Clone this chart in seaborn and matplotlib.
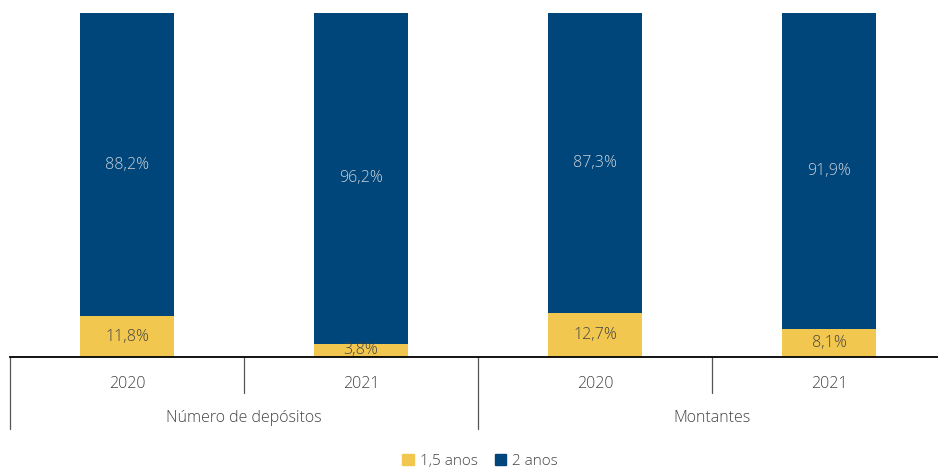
import matplotlib
matplotlib.use("Agg")
import matplotlib.pyplot as plt
import seaborn as sns
import pandas as pd
from matplotlib.patches import Patch


# ==============================
# DATA
# ==============================

groups = ["Número de depósitos", "Número de depósitos", "Montantes", "Montantes"]
years = ["2020", "2021", "2020", "2021"]
share_15 = [11.8, 3.8, 12.7, 8.1]
share_2 = [88.2, 96.2, 87.3, 91.9]
series_names = ["1,5 anos", "2 anos"]

YELLOW = "#F2C74F"
BLUE = "#00467A"
TEXT = "#444444"

df = pd.DataFrame({
    "slot": [g + " " + y for g, y in zip(groups, years)],
    "year": years,
    "s15": share_15,
    "s2": share_2,
})
df["total"] = df["s15"] + df["s2"]


# ==============================
# PLOT
# ==============================

sns.set_style("white")
plt.rcParams["font.family"] = ["Open Sans", "DejaVu Sans"]
plt.rcParams["font.weight"] = "light"

fig = plt.figure(figsize=(9.38, 4.69), dpi=100)
ax = fig.add_axes([10 / 938, 112 / 469, 936 / 938, 344 / 469])

sns.barplot(data=df, x="slot", y="total", color=BLUE, width=0.4,
            saturation=1, ax=ax, linewidth=0)
sns.barplot(data=df, x="slot", y="s15", color=YELLOW, width=0.4,
            saturation=1, ax=ax, linewidth=0)

ax.set_ylim(0, 100)
ax.set_xlim(-0.5, len(df) - 0.5)
ax.set_yticks([])
ax.set_xlabel("")
ax.set_ylabel("")
for side in ["top", "right", "left"]:
    ax.spines[side].set_visible(False)
ax.spines["bottom"].set_color("black")
ax.spines["bottom"].set_linewidth(1.3)

ax.set_xticks(range(len(df)))
ax.set_xticklabels(df["year"], fontsize=11.5, color=TEXT)
ax.tick_params(axis="x", length=0, pad=14)

# value labels
for i, row in df.iterrows():
    ax.text(i, row["s15"] / 2, f"{row['s15']:.1f}%".replace(".", ","),
            ha="center", va="center", fontsize=11.5, color=TEXT)
    ax.text(i, row["s15"] + row["s2"] / 2, f"{row['s2']:.1f}%".replace(".", ","),
            ha="center", va="center", fontsize=11.5, color="#CDD3DB")

# group separators
trans = ax.get_xaxis_transform()
for k in range(len(df)):
    depth = -0.21 if k % 2 == 0 else -0.105
    ax.plot([k - 0.5, k - 0.5], [0, depth], transform=trans,
            color="#555555", lw=0.9, clip_on=False)

for g in dict.fromkeys(groups):
    idx = [i for i, name in enumerate(groups) if name == g]
    ax.text(sum(idx) / len(idx), -0.178, g, transform=trans,
            ha="center", va="center", fontsize=11.5, color=TEXT)

# legend
handles = [Patch(color=YELLOW), Patch(color=BLUE)]
fig.legend(handles, series_names, loc="center", bbox_to_anchor=(0.512, 1 - 461 / 469),
           ncol=2, frameon=False, handlelength=0.75, handleheight=0.75,
           handletextpad=0.4, columnspacing=1.1,
           prop={"family": ["Open Sans"], "size": 11, "weight": "light"},
           labelcolor=TEXT)

fig.savefig("out.png", dpi=100)
